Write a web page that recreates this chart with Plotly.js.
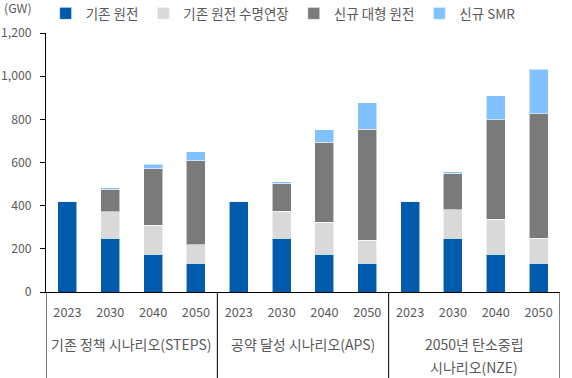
<!DOCTYPE html>
<html><head><meta charset="utf-8">
<script src="https://cdn.plot.ly/plotly-3.0.1.min.js"></script>
<style>html,body{margin:0;padding:0;background:#fff}#chart{width:572px;height:378px}</style>
</head><body><div id="chart"></div>
<script>
// Data (GW)
const years = ['2023','2030','2040','2050','2023','2030','2040','2050','2023','2030','2040','2050'];
const scenarios = ['기존 정책 시나리오(STEPS)', '공약 달성 시나리오(APS)', '2050년 탄소중립', '시나리오(NZE)'];
const seriesNames = ['기존 원전', '기존 원전 수명연장', '신규 대형 원전', '신규 SMR'];
const existing   = [420, 250, 174, 134, 420, 250, 176, 134, 420, 250, 174, 134];
const lifeExt    = [0, 121, 136, 84, 0, 125, 148, 105, 0, 130, 164, 116];
const newLarge   = [0, 106, 260, 389, 0, 128, 371, 514, 0, 171, 459, 576];
const newSMR     = [0, 6, 21, 43, 0, 7, 57, 124, 0, 6, 113, 205];

const colors = ['#005BAC', '#D9D9D9', '#7A7A7A', '#80C1FF'];
const xs = years.map((_, i) => i);
const font = "'Noto Sans CJK KR', 'Noto Sans', sans-serif";
const grey = '#595959';

const traces = [existing, lifeExt, newLarge, newSMR].map((vals, k) => ({
  type: 'bar', x: xs, y: vals, name: seriesNames[k],
  marker: {color: colors[k], line: {color: 'rgba(255,255,255,0.55)', width: 1}},
  hoverinfo: 'y+name'
}));

// group boundaries
const groupSize = 4;
const nGroups = years.length / groupSize;
const shapes = [];
for (let g = 0; g <= nGroups; g++) {
  const xb = g * groupSize - 0.5;
  shapes.push({type: 'line', xref: 'x', yref: 'paper', x0: xb, x1: xb, y0: 0, y1: -0.34,
    line: {color: '#000', width: 1}});
}
const ann = [
  {text: scenarios[0], x: 1.5, y: -0.202},
  {text: scenarios[1], x: 5.5, y: -0.202},
  {text: scenarios[2], x: 9.5, y: -0.202},
  {text: scenarios[3], x: 9.5, y: -0.288}
].map(a => Object.assign(a, {xref: 'x', yref: 'paper', showarrow: false, xanchor: 'center', yanchor: 'middle',
  font: {family: font, size: 14, color: grey}}));
ann.push({text: '(GW)', xref: 'paper', yref: 'paper', x: -0.086, y: 1.095, xanchor: 'left', yanchor: 'middle',
  showarrow: false, font: {family: font, size: 12.3, color: grey}});

const layout = {
  width: 572, height: 378,
  margin: {l: 46, r: 12, t: 33, b: 86, autoexpand: false},
  paper_bgcolor: '#fff', plot_bgcolor: '#fff',
  font: {family: font, size: 12, color: grey},
  barmode: 'stack', bargap: 0.56,
  showlegend: true,
  legend: {orientation: 'h', xref: 'container', x: 0.495, xanchor: 'center', y: 1.075, yanchor: 'middle',
    font: {family: font, size: 13.5, color: grey}, traceorder: 'normal', itemwidth: 30},
  xaxis: {range: [-0.5, 11.5], tickvals: xs, ticktext: years, showline: true, linecolor: '#000', linewidth: 1,
    ticks: '', showgrid: false, zeroline: false, ticklabelstandoff: 9, tickfont: {family: font, size: 12.7, color: grey}, fixedrange: true},
  yaxis: {range: [0, 1200], dtick: 200, tickformat: ',', showline: true, linecolor: '#000', linewidth: 1,
    ticks: 'outside', ticklen: 5, tickcolor: '#000', showgrid: false, zeroline: false,
    tickfont: {family: font, size: 12.2, color: grey}, ticklabelstandoff: 6, fixedrange: true},
  shapes: shapes, annotations: ann
};
Plotly.newPlot('chart', traces, layout, {displayModeBar: false, staticPlot: true});
</script></body></html>
